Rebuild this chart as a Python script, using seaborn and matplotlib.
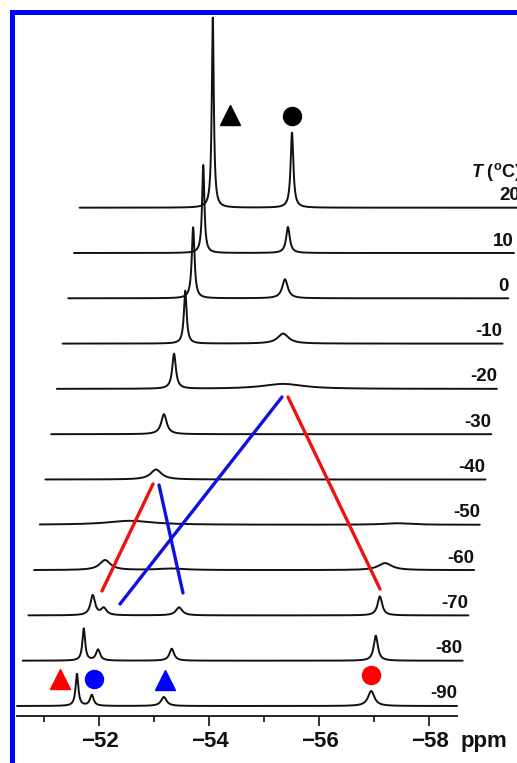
import numpy as np
import pandas as pd
import matplotlib.pyplot as plt
import seaborn as sns
from matplotlib.patches import Rectangle
from matplotlib.ticker import FixedLocator

# temperatures, bottom trace first
temps = ['-90', '-80', '-70', '-60', '-50', '-40', '-30', '-20', '-10', '0', '10', '20']

# peak positions (ppm), heights and half widths (ppm) for each trace
peak_pos = [
    [-51.59, -51.86, -53.17, -56.94],
    [-51.61, -51.87, -53.21, -56.92],
    [-51.67, -51.87, -53.24, -56.89],
    [-51.79, -53.0, -56.88],
    [-52.14, -56.99],
    [-52.51],
    [-52.55],
    [-52.63, -54.61],
    [-52.73, -54.51],
    [-52.77, -54.44],
    [-52.85, -54.39],
    [-52.92, -54.36],
]
peak_height = [
    [32, 11, 9, 15],
    [32, 11, 12, 25],
    [20, 7, 8, 19],
    [10, 1.5, 7],
    [4, 1.5],
    [10],
    [20],
    [35, 5],
    [53, 10],
    [71, 19],
    [88, 26],
    [190, 75],
]
peak_width = [
    [0.03, 0.04, 0.06, 0.07],
    [0.03, 0.045, 0.05, 0.045],
    [0.05, 0.06, 0.07, 0.05],
    [0.12, 0.3, 0.15],
    [0.5, 0.3],
    [0.12],
    [0.06],
    [0.04, 0.45],
    [0.03, 0.12],
    [0.03, 0.06],
    [0.025, 0.04],
    [0.022, 0.03],
]

# guide lines (ppm, intensity) and assignment markers
red_lines = [([-52.045, -52.973], [115, 222]), ([-55.427, -57.10], [309, 117])]
blue_lines = [([-52.373, -55.318], [102, 309]), ([-53.082, -53.518], [221, 113])]
marker_x = [-54.373, -55.50, -51.282, -51.90, -53.191, -56.936]
marker_y = [591, 590, 27, 27, 26, 31]
marker_shape = ['^', 'o', '^', 'o', '^', 'o']
marker_color = ['black', 'black', 'red', 'blue', 'blue', 'red']

major_ticks = [-52, -54, -56, -58]
minor_ticks = [-51, -53, -55, -57]

step_y = 45.3          # vertical offset between traces
step_x = 5.7 / 55      # horizontal skew between traces (ppm)

sns.set_theme(style="white")
plt.rcParams['font.family'] = ['Liberation Sans', 'DejaVu Sans']
plt.rcParams['mathtext.fontset'] = 'custom'
plt.rcParams['mathtext.it'] = 'Liberation Sans:bold:italic'
plt.rcParams['mathtext.rm'] = 'Liberation Sans:bold'

W, H = 517, 763
fig = plt.figure(figsize=(W / 100, H / 100), dpi=100)
ax = fig.add_axes([17 / W, (H - 716) / H, 1 - 17 / W, 716 / H])

ppm = np.linspace(-50.5, -58.5, 4001)
for i, t in enumerate(temps):
    spec = np.zeros_like(ppm)
    for p, h, w in zip(peak_pos[i], peak_height[i], peak_width[i]):
        spec += h / (1 + ((ppm - p) / w) ** 2)
    df = pd.DataFrame({'x': ppm - i * step_x, 'y': spec + i * step_y})
    sns.lineplot(data=df, x='x', y='y', ax=ax, color='#111111', lw=1.4,
                 estimator=None, sort=False, clip_on=False)
    ax.text(-58.5 - i * step_x, i * step_y + 3.5, t, ha='right', va='bottom',
            fontsize=13.5, fontweight='bold', color='#111111')

ax.text(-57.62 - 11 * step_x, 11 * step_y + 36, r"$T$ ($^{\rm o}$C)",
        ha='left', va='center', fontsize=13, fontweight='bold', color='#111111')

for xs, ys in red_lines:
    sns.lineplot(x=xs, y=ys, ax=ax, color='#ee1111', lw=2.4, estimator=None, sort=False)
for xs, ys in blue_lines:
    sns.lineplot(x=xs, y=ys, ax=ax, color='#1010e0', lw=2.4, estimator=None, sort=False)

for x, y, m, c in zip(marker_x, marker_y, marker_shape, marker_color):
    ax.plot(x, y, marker=m, color=c, ms=14 if m == '^' else 13, ls='none')

ax.set_xlim(-50.5, -52 - (W - 99.5) / 55)
ax.set_ylim(-10, 706)
for s in ['left', 'right', 'top']:
    ax.spines[s].set_visible(False)
ax.spines['bottom'].set_bounds(-50.5, -58.5)
ax.spines['bottom'].set_linewidth(1.3)
ax.spines['bottom'].set_color('#111111')
ax.set_yticks([])
ax.xaxis.set_major_locator(FixedLocator(major_ticks))
ax.xaxis.set_minor_locator(FixedLocator(minor_ticks))
ax.set_xticklabels([f'\u2212{abs(v)}' for v in major_ticks], fontweight='bold')
ax.tick_params(axis='x', which='major', direction='out', length=7, width=1.2,
               labelsize=16, pad=4, colors='#111111', bottom=True)
ax.tick_params(axis='x', which='minor', direction='out', length=4.5, width=1.2,
               bottom=True, colors='#111111')
ax.set_xlabel('')
ax.set_ylabel('')
fig.text(461 / W, 1 - 742 / H, 'ppm', ha='left', va='center', fontsize=16,
         fontweight='bold', color='#111111')

# blue frame
fig.add_artist(Rectangle((10 / W, 1 - 15 / H), 1, 5 / H, transform=fig.transFigure,
                         color='#0000ff', lw=0))
fig.add_artist(Rectangle((10 / W, 0), 5 / W, 1 - 10 / H, transform=fig.transFigure,
                         color='#0000ff', lw=0))

fig.savefig('out.png', dpi=100)
